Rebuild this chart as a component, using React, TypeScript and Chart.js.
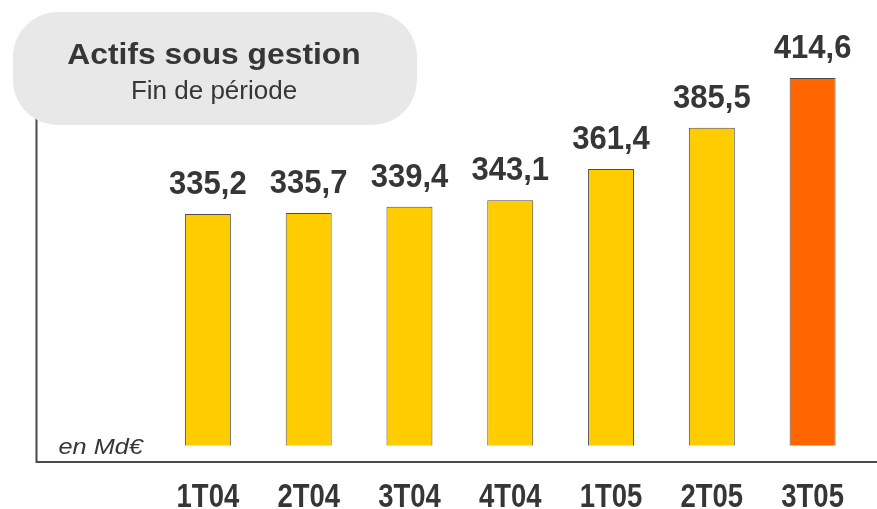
import React, { useEffect, useRef } from "react";
import { Chart, registerables } from "chart.js";

Chart.register(...registerables);

const categories = ["1T04", "2T04", "3T04", "4T04", "1T05", "2T05", "3T05"];
const values = [335.2, 335.7, 339.4, 343.1, 361.4, 385.5, 414.6];
const valueLabels = ["335,2", "335,7", "339,4", "343,1", "361,4", "385,5", "414,6"];
const barColors = ["#FFCC00", "#FFCC00", "#FFCC00", "#FFCC00", "#FFCC00", "#FFCC00", "#FF6600"];
const titleText = "Actifs sous gestion";
const subtitleText = "Fin de période";
const unitText = "en Md€";
const yMin = 200;
const yMax = 450;

const SANS = "'Liberation Sans', Arial, sans-serif";
const TEXT = "#363636";

function drawText(
  ctx: CanvasRenderingContext2D,
  text: string,
  x: number,
  y: number,
  font: string,
  scaleX: number,
  align: CanvasTextAlign
) {
  ctx.save();
  ctx.font = font;
  ctx.textAlign = align;
  ctx.textBaseline = "alphabetic";
  ctx.translate(x, y);
  ctx.scale(scaleX, 1);
  ctx.fillText(text, 0, 0);
  ctx.restore();
}

const decorPlugin = {
  id: "decor",
  afterDraw(chart: any) {
    const ctx = chart.ctx as CanvasRenderingContext2D;
    const area = chart.chartArea;
    const axisX = area.left - 121;
    const axisY = area.bottom + 16.5;
    ctx.save();
    ctx.strokeStyle = "#4a4a4a";
    ctx.lineWidth = 2;
    ctx.beginPath();
    ctx.moveTo(axisX, 100);
    ctx.lineTo(axisX, axisY);
    ctx.lineTo(chart.width, axisY);
    ctx.stroke();

    ctx.fillStyle = TEXT;
    drawText(ctx, unitText, axisX + 22, area.bottom + 8, `italic 22px ${SANS}`, 1.15, "left");

    // category labels, positioned by the x scale
    const xs = chart.scales.x;
    categories.forEach((c, i) => {
      drawText(ctx, c, xs.getPixelForValue(i), 506.7, `bold 32.7px ${SANS}`, 0.84, "center");
    });

    // value labels above bars
    const meta = chart.getDatasetMeta(0);
    meta.data.forEach((bar: any, i: number) => {
      drawText(ctx, valueLabels[i], bar.x, bar.y - 20, `bold 33px ${SANS}`, 0.94, "center");
    });

    // title pill
    ctx.fillStyle = "#E8E8E8";
    ctx.beginPath();
    (ctx as any).roundRect(13, 12, 404, 113, 45);
    ctx.fill();
    ctx.fillStyle = TEXT;
    drawText(ctx, titleText, 214, 64.3, `bold 30px ${SANS}`, 1.06, "center");
    drawText(ctx, subtitleText, 214, 98.7, `26px ${SANS}`, 1, "center");
    ctx.restore();
  },
};

export default function App() {
  const ref = useRef<HTMLCanvasElement | null>(null);
  useEffect(() => {
    if (!ref.current) return;
    const chart = new Chart(ref.current, {
      type: "bar",
      data: {
        labels: categories,
        datasets: [
          {
            data: values,
            backgroundColor: barColors,
            borderColor: "#4d4d4d",
            borderWidth: 1,
            borderSkipped: false,
            barPercentage: 0.456,
            categoryPercentage: 1,
          },
        ],
      },
      options: {
        animation: false,
        responsive: false,
        maintainAspectRatio: false,
        layout: { padding: { left: 157.5, right: 14, top: 17.25, bottom: 0 } },
        plugins: { legend: { display: false }, tooltip: { enabled: false }, title: { display: false } },
        scales: {
          x: {
            offset: true,
            grid: { display: false, drawTicks: false },
            border: { display: false },
            ticks: { display: false },
            afterFit: (scale: any) => {
              scale.height = 63.5;
            },
          },
          y: {
            display: false,
            min: yMin,
            max: yMax,
          },
        },
      },
      plugins: [decorPlugin],
    });
    return () => chart.destroy();
  }, []);
  return (
    <div style={{ position: "fixed", left: 0, top: 0, width: 877, height: 509, background: "#fff" }}>
      <canvas ref={ref} width={877} height={509} style={{ width: 877, height: 509 }} />
    </div>
  );
}
